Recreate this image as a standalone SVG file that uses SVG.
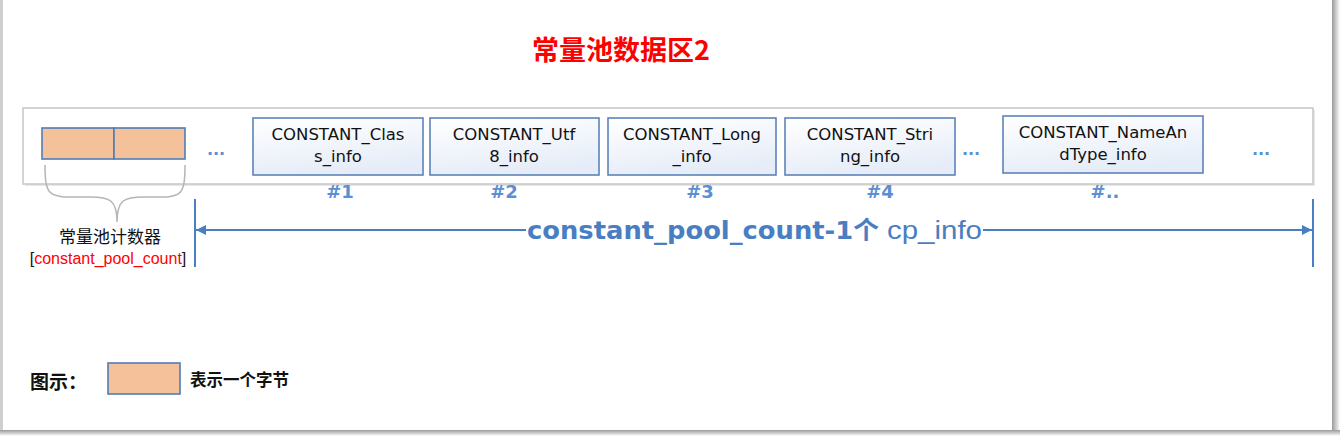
<svg xmlns="http://www.w3.org/2000/svg" width="1342" height="436" viewBox="0 0 1342 436">
<style>
.cell{fill:url(#cg);stroke:#5d83b9;stroke-width:1.6}
.byte{fill:#f5c19b;stroke:#4f7db8;stroke-width:1.6}
.bt{font-family:"DejaVu Sans","Liberation Sans",sans-serif;font-size:16.5px;fill:#111;text-anchor:middle}
.num{font-family:"DejaVu Sans","Liberation Sans",sans-serif;font-size:18px;font-weight:bold;fill:#5b8fd3;text-anchor:middle}
.dots{font-family:"DejaVu Sans",sans-serif;font-size:16px;font-weight:bold;fill:#5b8fd3;text-anchor:middle}
.cn{font-family:"Noto Sans CJK SC",sans-serif;fill:#111}
.conn{stroke:#4a7ec2;stroke-width:2;fill:none}
</style>
<defs>
<linearGradient id="cg" x1="0" y1="0" x2="0.3" y2="1">
<stop offset="0" stop-color="#ffffff"/>
<stop offset="1" stop-color="#e6edf8"/>
</linearGradient>
<linearGradient id="rs" x1="0" y1="0" x2="1" y2="0">
<stop offset="0" stop-color="#9a9a9a"/>
<stop offset="1" stop-color="#ffffff"/>
</linearGradient>
<linearGradient id="bs" x1="0" y1="0" x2="0" y2="1">
<stop offset="0" stop-color="#9a9a9a"/>
<stop offset="1" stop-color="#ffffff"/>
</linearGradient>
<marker id="ah" viewBox="0 0 10 10" refX="10" refY="5" markerWidth="5" markerHeight="5" orient="auto-start-reverse" markerUnits="strokeWidth">
<path d="M0,0 L10,5 L0,10 z" fill="#4a7ec2"/>
</marker>
</defs>
<rect width="1342" height="436" fill="#fff"/>
<!-- page frame -->
<rect x="1332" y="0" width="8" height="436" fill="url(#rs)"/>
<rect x="0" y="430" width="1340" height="6" fill="url(#bs)"/>
<rect x="0" y="0" width="3" height="430" fill="#cfcfcf"/>
<rect x="3" y="0" width="1329" height="430" fill="#fff"/>

<text x="621" y="60" font-family="Noto Sans CJK SC,sans-serif" font-size="27" font-weight="bold" fill="#ff0000" text-anchor="middle">常量池数据区2</text>

<g id="panel">
<rect x="25" y="110" width="1290" height="76" fill="#e8e8e8"/>
<rect x="23" y="108" width="1290" height="76" fill="#fff" stroke="#c6c6c6" stroke-width="1.5"/>
</g>

<g id="counter">
<rect class="byte" x="42" y="128" width="72" height="31"/>
<rect class="byte" x="114" y="128" width="71" height="31"/>
</g>

<g id="cells">
<g id="c1"><rect class="cell" x="253" y="118" width="170" height="57"/>
<text class="bt" x="338" y="140">CONSTANT_Clas</text><text class="bt" x="338" y="162">s_info</text></g>
<g id="c2"><rect class="cell" x="430" y="118" width="169" height="57"/>
<text class="bt" x="514" y="140">CONSTANT_Utf</text><text class="bt" x="514" y="162">8_info</text></g>
<g id="c3"><rect class="cell" x="608" y="118" width="168" height="57"/>
<text class="bt" x="692" y="140">CONSTANT_Long</text><text class="bt" x="692" y="162">_info</text></g>
<g id="c4"><rect class="cell" x="785" y="118" width="170" height="57"/>
<text class="bt" x="870" y="140">CONSTANT_Stri</text><text class="bt" x="870" y="162">ng_info</text></g>
<g id="c5"><rect class="cell" x="1003" y="116" width="200" height="57"/>
<text class="bt" x="1103" y="138">CONSTANT_NameAn</text><text class="bt" x="1103" y="160">dType_info</text></g>
</g>

<g id="dots">
<text class="dots" x="216" y="155">...</text>
<text class="dots" x="971" y="155">...</text>
<text class="dots" x="1261" y="155">...</text>
</g>

<g id="nums">
<text class="num" x="340" y="198">#1</text>
<text class="num" x="504" y="198">#2</text>
<text class="num" x="700" y="198">#3</text>
<text class="num" x="880" y="198">#4</text>
<text class="num" x="1105" y="198">#..</text>
</g>

<g id="brace">
<path d="M45,165 C45,200 50,197 90,197 C110,197 117,200 117,222 C117,200 124,197 144,197 C180,197 185,200 185,165" fill="none" stroke="#b5b5b5" stroke-width="1.5"/>
<text class="cn" x="110" y="243" font-size="17" text-anchor="middle">常量池计数器</text>
<text x="108" y="264" font-family="Liberation Sans,sans-serif" font-size="16" text-anchor="middle" fill="#111">[<tspan fill="#ff0000">constant_pool_count</tspan>]</text>
</g>

<g id="connectors">
<line class="conn" x1="195" y1="199" x2="195" y2="267"/>
<line class="conn" x1="1313" y1="199" x2="1313" y2="267"/>
<line class="conn" x1="526" y1="230" x2="196" y2="230" marker-end="url(#ah)"/>
<line class="conn" x1="983" y1="230" x2="1312" y2="230" marker-end="url(#ah)"/>
</g>
<text x="527" y="239" font-family="DejaVu Sans,Noto Sans CJK SC,sans-serif" font-size="25" font-weight="bold" fill="#4a7ec2" textLength="352" lengthAdjust="spacingAndGlyphs">constant_pool_count-1个</text>
<text x="887" y="239" font-family="Liberation Sans,sans-serif" font-size="25" fill="#4a7ec2" textLength="95" lengthAdjust="spacingAndGlyphs">cp_info</text>

<g id="legend">
<text class="cn" x="30" y="389" font-size="19" font-weight="bold">图示：</text>
<rect class="byte" x="108" y="363" width="72" height="31"/>
<text class="cn" x="190" y="386" font-size="16.5" font-weight="bold">表示一个字节</text>
</g>
</svg>
